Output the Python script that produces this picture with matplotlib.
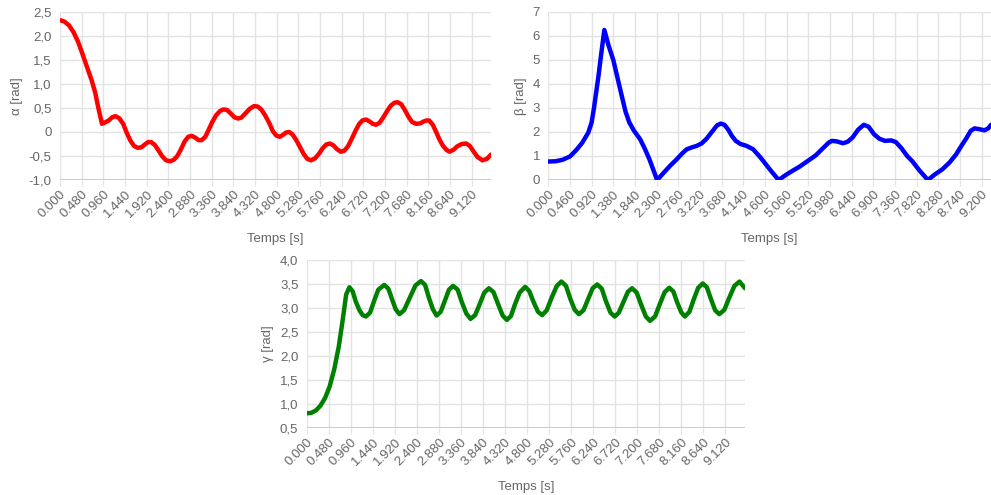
import matplotlib
matplotlib.use('Agg')
import matplotlib.pyplot as plt
import numpy as np

plt.rcParams['font.family'] = ['Liberation Sans', 'DejaVu Sans']

# alpha(t)
t_alpha = [0.00, 0.10, 0.20, 0.30, 0.40, 0.50, 0.60, 0.70, 0.78, 0.85, 0.93, 1.00, 1.08, 1.16,
           1.23, 1.31, 1.40, 1.48, 1.56, 1.64, 1.72, 1.80, 1.88, 1.95, 2.02, 2.10, 2.18, 2.26,
           2.35, 2.44, 2.52, 2.60, 2.68, 2.76, 2.84, 2.92, 3.00, 3.07, 3.14, 3.22, 3.30, 3.38,
           3.46, 3.55, 3.62, 3.70, 3.78, 3.86, 3.94, 4.02, 4.10, 4.20, 4.30, 4.38, 4.46, 4.55,
           4.64, 4.72, 4.80, 4.87, 4.94, 5.01, 5.08, 5.15, 5.23, 5.31, 5.40, 5.48, 5.56, 5.65,
           5.74, 5.82, 5.90, 5.98, 6.06, 6.14, 6.22, 6.30, 6.38, 6.46, 6.55, 6.63, 6.70, 6.78,
           6.86, 6.93, 7.00, 7.08, 7.16, 7.25, 7.33, 7.41, 7.48, 7.56, 7.64, 7.72, 7.80, 7.89,
           7.98, 8.06, 8.12, 8.18, 8.26, 8.33, 8.40, 8.48, 8.56, 8.63, 8.72, 8.80, 8.90, 9.00,
           9.08, 9.16, 9.25, 9.36, 9.46, 9.55]
alpha = [2.33, 2.30, 2.22, 2.08, 1.88, 1.62, 1.35, 1.08, 0.82, 0.50, 0.17, 0.20, 0.24, 0.31,
         0.33, 0.29, 0.17, -0.02, -0.18, -0.29, -0.33, -0.32, -0.26, -0.21, -0.21, -0.27, -0.38, -0.50,
         -0.59, -0.61, -0.58, -0.50, -0.36, -0.20, -0.10, -0.08, -0.12, -0.17, -0.17, -0.10, 0.06, 0.22,
         0.35, 0.44, 0.47, 0.46, 0.39, 0.31, 0.28, 0.30, 0.38, 0.48, 0.54, 0.53, 0.47, 0.34,
         0.18, 0.01, -0.08, -0.10, -0.06, -0.01, 0.00, -0.05, -0.16, -0.30, -0.46, -0.56, -0.59, -0.55,
         -0.45, -0.34, -0.26, -0.24, -0.28, -0.36, -0.41, -0.39, -0.30, -0.15, 0.03, 0.17, 0.24, 0.26,
         0.22, 0.17, 0.15, 0.19, 0.30, 0.44, 0.55, 0.61, 0.62, 0.58, 0.46, 0.32, 0.21, 0.17,
         0.18, 0.22, 0.24, 0.24, 0.15, 0.01, -0.14, -0.28, -0.37, -0.41, -0.37, -0.30, -0.25, -0.24,
         -0.29, -0.40, -0.52, -0.59, -0.56, -0.47]

# beta(t)
t_beta = [0.00, 0.15, 0.30, 0.46, 0.60, 0.72, 0.85, 0.92, 0.97, 1.02, 1.07, 1.12, 1.19, 1.28,
          1.38, 1.47, 1.56, 1.64, 1.72, 1.82, 1.95, 2.05, 2.15, 2.31, 2.45, 2.58, 2.72, 2.85,
          2.94, 3.05, 3.15, 3.26, 3.36, 3.48, 3.58, 3.66, 3.74, 3.82, 3.90, 3.98, 4.08, 4.20,
          4.35, 4.50, 4.62, 4.75, 4.89, 5.05, 5.20, 5.33, 5.50, 5.68, 5.82, 5.95, 6.02, 6.12,
          6.26, 6.36, 6.46, 6.58, 6.70, 6.80, 6.92, 7.03, 7.15, 7.28, 7.38, 7.50, 7.62, 7.73,
          7.88, 8.06, 8.20, 8.37, 8.52, 8.66, 8.78, 8.87, 8.97, 9.05, 9.15, 9.26, 9.34, 9.40]
beta = [0.77, 0.78, 0.84, 0.98, 1.26, 1.55, 1.98, 2.40, 3.00, 3.70, 4.40, 5.20, 6.25, 5.60,
        5.00, 4.25, 3.50, 2.85, 2.40, 2.05, 1.70, 1.30, 0.85, 0.00, 0.30, 0.58, 0.85, 1.12,
        1.28, 1.36, 1.42, 1.53, 1.72, 2.02, 2.27, 2.35, 2.30, 2.10, 1.83, 1.63, 1.50, 1.43,
        1.28, 0.95, 0.65, 0.33, 0.00, 0.22, 0.40, 0.55, 0.78, 1.03, 1.30, 1.55, 1.63, 1.61,
        1.53, 1.60, 1.77, 2.10, 2.30, 2.22, 1.90, 1.72, 1.63, 1.65, 1.58, 1.32, 1.00, 0.78,
        0.40, 0.00, 0.22, 0.45, 0.73, 1.07, 1.45, 1.72, 2.05, 2.15, 2.12, 2.07, 2.15, 2.30]

# gamma(t)
t_gamma = [0.00, 0.10, 0.20, 0.30, 0.40, 0.50, 0.60, 0.70, 0.78, 0.86, 0.93, 1.00, 1.07, 1.15,
           1.22, 1.29, 1.38, 1.47, 1.56, 1.69, 1.78, 1.86, 1.94, 2.02, 2.12, 2.25, 2.37, 2.49,
           2.58, 2.66, 2.75, 2.83, 2.92, 3.01, 3.10, 3.19, 3.29, 3.38, 3.48, 3.57, 3.67, 3.77,
           3.87, 3.97, 4.07, 4.17, 4.27, 4.36, 4.45, 4.54, 4.64, 4.76, 4.85, 4.94, 5.04, 5.13,
           5.23, 5.34, 5.45, 5.55, 5.65, 5.74, 5.84, 5.93, 6.03, 6.13, 6.23, 6.33, 6.43, 6.52,
           6.62, 6.71, 6.80, 6.90, 7.00, 7.09, 7.19, 7.29, 7.39, 7.48, 7.59, 7.69, 7.80, 7.90,
           7.99, 8.07, 8.16, 8.24, 8.34, 8.43, 8.53, 8.63, 8.72, 8.81, 8.90, 8.99, 9.10, 9.21,
           9.32, 9.43, 9.55]
gamma = [0.80, 0.81, 0.86, 0.96, 1.12, 1.36, 1.72, 2.20, 2.72, 3.28, 3.43, 3.35, 3.13, 2.95,
         2.85, 2.82, 2.90, 3.15, 3.38, 3.48, 3.40, 3.18, 2.97, 2.87, 2.95, 3.22, 3.47, 3.56,
         3.48, 3.22, 2.97, 2.84, 2.92, 3.15, 3.38, 3.46, 3.38, 3.12, 2.88, 2.77, 2.85, 3.08,
         3.32, 3.41, 3.33, 3.08, 2.84, 2.75, 2.83, 3.08, 3.32, 3.44, 3.35, 3.13, 2.92, 2.85,
         2.95, 3.22, 3.46, 3.55, 3.46, 3.20, 2.96, 2.87, 2.95, 3.18, 3.41, 3.49, 3.40, 3.14,
         2.90, 2.82, 2.90, 3.12, 3.34, 3.41, 3.32, 3.06, 2.82, 2.73, 2.82, 3.07, 3.33, 3.42,
         3.34, 3.12, 2.91, 2.82, 2.92, 3.17, 3.42, 3.51, 3.43, 3.18, 2.95, 2.87, 2.96, 3.22,
         3.46, 3.55, 3.41]

TXT = '#666666'
GRID = '#e3e3e3'


def fr(v):
    # decimal comma, "0" stays bare
    if v == 0:
        return '0'
    return ('%.1f' % v).replace('.', ',')


def style(ax, xstep, xmax, yticks, ylabels, ylab):
    ax.set_xlim(0, xmax)
    ax.set_ylim(yticks[0], yticks[-1])
    xt = np.arange(0, xmax, xstep)
    ax.set_xticks(xt)
    ax.set_xticklabels(['%.3f' % x for x in xt], rotation=45, ha='right',
                       rotation_mode='anchor', fontsize=9.5, color=TXT)
    ax.set_yticks(yticks)
    ax.set_yticklabels(ylabels, fontsize=9.5, color=TXT)
    ax.grid(True, color=GRID, lw=1)
    ax.set_axisbelow(True)
    for s in ax.spines.values():
        s.set_visible(False)
    ax.axhline(yticks[0], color='#cccccc', lw=1.5, zorder=1)
    ax.tick_params(axis='x', length=4, color=GRID, pad=2)
    ax.tick_params(axis='y', length=0, pad=6)
    ax.set_xlabel('Temps [s]', fontsize=9.5, color=TXT, labelpad=9)
    ax.set_ylabel(ylab, fontsize=9.5, color=TXT, labelpad=4)


fig = plt.figure(figsize=(9.91, 4.95), dpi=100)
W, H = 991.0, 495.0

ax1 = fig.add_axes([60 / W, 1 - 180 / H, 431 / W, 168 / H])
ax1.plot(t_alpha, alpha, color='#ff0000', lw=3.2, solid_capstyle='round')
ya = [-1.0, -0.5, 0.0, 0.5, 1.0, 1.5, 2.0, 2.5]
style(ax1, 0.48, 9.55, ya, [fr(v) for v in ya], 'α [rad]')

ax2 = fig.add_axes([548.3 / W, 1 - 180 / H, 442.7 / W, 168 / H])
ax2.plot(t_beta, beta, color='#0000ff', lw=3.2, solid_capstyle='round')
yb = [0, 1, 2, 3, 4, 5, 6, 7]
style(ax2, 0.46, 9.40, yb, [str(v) for v in yb], 'β [rad]')

ax3 = fig.add_axes([306.7 / W, 1 - 427.7 / H, 438.3 / W, 167.7 / H])
ax3.plot(t_gamma, gamma, color='#008000', lw=3.2, solid_capstyle='round')
yg = [0.5, 1.0, 1.5, 2.0, 2.5, 3.0, 3.5, 4.0]
style(ax3, 0.48, 9.55, yg, [fr(v) for v in yg], 'γ [rad]')

fig.savefig('out.png', dpi=100)
